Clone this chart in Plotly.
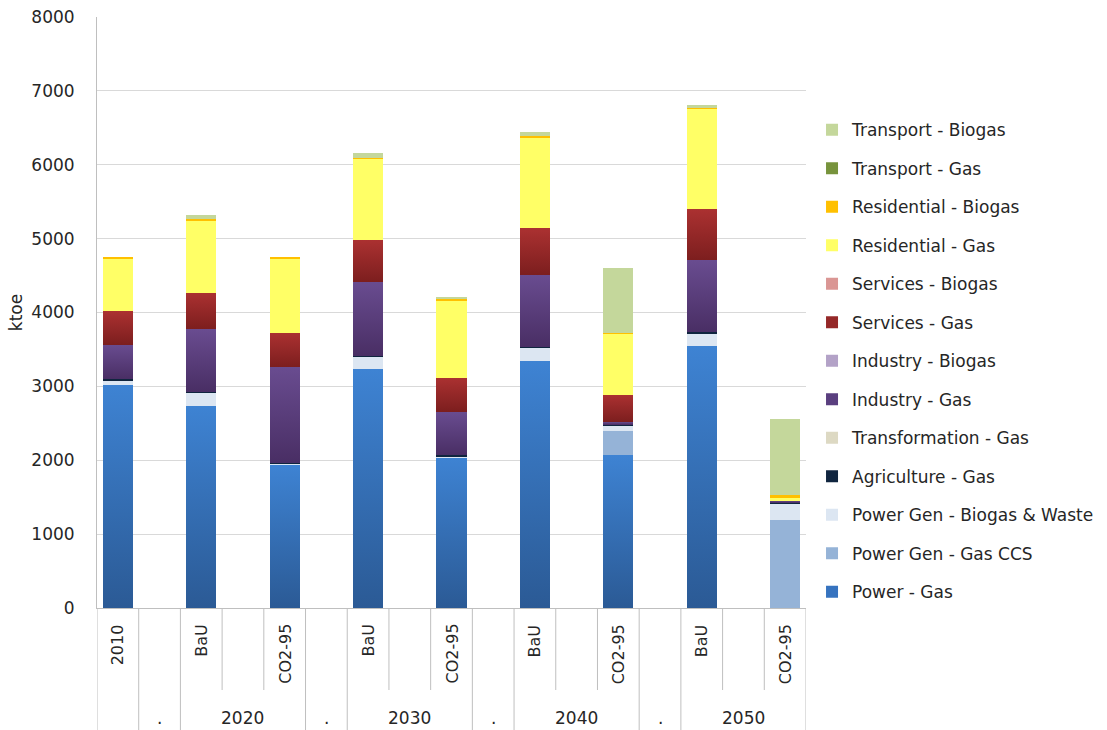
import json
import plotly.graph_objects as go

# Category axis: inner labels (one per slot) and outer year groups
slot_labels = ["2010", "", "BaU", "", "CO2-95", "", "BaU", "", "CO2-95", "",
               "BaU", "", "CO2-95", "", "BaU", "", "CO2-95"]
group_labels = ["", ".", "2020", ".", "2030", ".", "2040", ".", "2050"]
group_sizes = [1, 1, 3, 1, 3, 1, 3, 1, 3]

# Slots that carry a scenario bar
bar_slots = [i for i, s in enumerate(slot_labels) if s]

# Gas and biogas consumption by sector, ktoe (one value per scenario bar)
power_gas = [3020, 2740, 1940, 3230, 2040, 3340, 2070, 3545, 0]
power_gas_ccs = [0, 0, 0, 0, 0, 0, 325, 0, 1190]
power_biogas_waste = [65, 180, 10, 170, 10, 180, 70, 175, 225]
agriculture_gas = [10, 10, 10, 10, 15, 10, 15, 10, 10]
transformation_gas = [0, 0, 0, 0, 0, 0, 0, 0, 0]
industry_gas = [470, 840, 1300, 1000, 590, 980, 40, 975, 30]
industry_biogas = [0, 0, 0, 0, 0, 0, 0, 0, 0]
services_gas = [450, 500, 465, 573, 465, 630, 365, 695, 0]
services_biogas = [0, 0, 0, 0, 0, 0, 0, 0, 0]
residential_gas = [710, 975, 1010, 1100, 1040, 1235, 826, 1360, 40]
residential_biogas = [15, 20, 20, 10, 30, 10, 10, 10, 30]
transport_gas = [0, 0, 0, 0, 0, 0, 0, 0, 0]
transport_biogas = [0, 50, 0, 60, 10, 55, 880, 45, 1040]

# name, values, flat colour, optional (top, bottom) shading for the bar body
series = [
    ("Power - Gas", power_gas, "#3673BF", ("#3E83D3", "#2B5A95")),
    ("Power Gen - Gas CCS", power_gas_ccs, "#95B3D7", None),
    ("Power Gen - Biogas & Waste", power_biogas_waste, "#DCE6F2", None),
    ("Agriculture - Gas", agriculture_gas, "#10253F", None),
    ("Transformation - Gas", transformation_gas, "#DDD9C3", None),
    ("Industry - Gas", industry_gas, "#5A3F7F", ("#694C90", "#492E64")),
    ("Industry - Biogas", industry_biogas, "#B3A2C7", None),
    ("Services - Gas", services_gas, "#952828", ("#AB3131", "#7C1E1E")),
    ("Services - Biogas", services_biogas, "#DA9694", None),
    ("Residential - Gas", residential_gas, "#FFFF66", None),
    ("Residential - Biogas", residential_biogas, "#FFC000", None),
    ("Transport - Gas", transport_gas, "#77933C", None),
    ("Transport - Biogas", transport_biogas, "#C4D79B", None),
]

FONT = "DejaVu Sans"
TXT = "#262626"
AXIS_LINE = "#BFBFBF"

fig = go.Figure()
n_series = len(series)
for k, (name, vals, color, _) in enumerate(series):
    fig.add_trace(go.Bar(
        x=bar_slots, y=vals, name=name, legendgroup=name,
        legendrank=n_series - k,
        marker=dict(color=color, line=dict(width=0)),
        width=0.72,
    ))

n = len(slot_labels)
plot_h = 591.0  # plot area height in px, used to place the two-level axis


def py(px_below):
    return -px_below / plot_h


shapes = []
annotations = []

# group boundaries (full height) and in-group slot boundaries (short)
group_edges = set()
pos = 0
for size in group_sizes:
    group_edges.add(pos)
    pos += size
group_edges.add(pos)

for b in range(n + 1):
    full = b in group_edges
    shapes.append(dict(type="line", xref="x", yref="paper",
                       x0=b - 0.5, x1=b - 0.5, y0=0,
                       y1=py(122 if full else 82),
                       line=dict(color=AXIS_LINE, width=1)))

for i, lab in enumerate(slot_labels):
    if lab:
        annotations.append(dict(x=i, y=py(14), xref="x", yref="paper",
                                text=lab, textangle=-90, showarrow=False,
                                xanchor="center", yanchor="top",
                                font=dict(family=FONT, size=16, color=TXT)))

pos = 0
for lab, size in zip(group_labels, group_sizes):
    if lab:
        annotations.append(dict(x=pos + (size - 1) / 2, y=py(110), xref="x",
                                yref="paper", text=lab, showarrow=False,
                                xanchor="center", yanchor="middle",
                                font=dict(family=FONT, size=17, color=TXT)))
    pos += size

fig.update_layout(
    width=1107, height=730,
    margin=dict(l=97, r=301, t=17, b=122, autoexpand=False),
    paper_bgcolor="white", plot_bgcolor="white",
    barmode="stack",
    font=dict(family=FONT, color=TXT),
    showlegend=True,
    legend=dict(
        traceorder="grouped", tracegroupgap=13.4,
        x=1.0085, xanchor="left", y=0.839, yanchor="top",
        font=dict(family=FONT, size=17, color=TXT),
        itemwidth=30, bgcolor="rgba(0,0,0,0)",
    ),
    xaxis=dict(range=[-0.5, n - 0.5], showticklabels=False, showgrid=False,
               zeroline=False, showline=True, linecolor=AXIS_LINE,
               ticks="", fixedrange=True, automargin=False),
    yaxis=dict(range=[0, 8000], dtick=1000, showgrid=True, gridcolor="#D9D9D9",
               gridwidth=1, zeroline=False, showline=True, linecolor=AXIS_LINE,
               ticks="", ticklabelstandoff=18, automargin=False,
               tickfont=dict(family=FONT, size=17, color=TXT),
               title=dict(text="ktoe", standoff=4,
                          font=dict(family=FONT, size=17, color=TXT))),
    shapes=shapes,
    annotations=annotations,
    bargap=0.28,
)

# vertical shading of the bar bodies (lighter at the top of each segment)
shading = {k: s[3] for k, s in enumerate(series) if s[3]}
post_js = """
(function () {
  var gd = document.getElementById('{plot_id}');
  var shades = SHADES;
  var ns = 'http://www.w3.org/2000/svg';
  function paint() {
    var svg = gd.querySelector('svg.main-svg');
    if (!svg) return;
    var defs = svg.querySelector('defs');
    Object.keys(shades).forEach(function (k) {
      var id = 'barshade-' + k;
      if (document.getElementById(id)) return;
      var lg = document.createElementNS(ns, 'linearGradient');
      lg.setAttribute('id', id);
      lg.setAttribute('x1', '0'); lg.setAttribute('y1', '0');
      lg.setAttribute('x2', '0'); lg.setAttribute('y2', '1');
      [[0, shades[k][0]], [1, shades[k][1]]].forEach(function (s) {
        var st = document.createElementNS(ns, 'stop');
        st.setAttribute('offset', s[0]);
        st.setAttribute('stop-color', s[1]);
        lg.appendChild(st);
      });
      defs.appendChild(lg);
    });
    var traces = gd.querySelectorAll('.barlayer .trace.bars');
    traces.forEach(function (t, i) {
      if (!shades[i]) return;
      t.querySelectorAll('path').forEach(function (p) {
        p.style.fill = 'url(#barshade-' + i + ')';
      });
    });
  }
  paint();
  if (gd.on) gd.on('plotly_afterplot', paint);
})();
""".replace("SHADES", json.dumps(shading))

fig.write_html("out.html", post_script=post_js)
